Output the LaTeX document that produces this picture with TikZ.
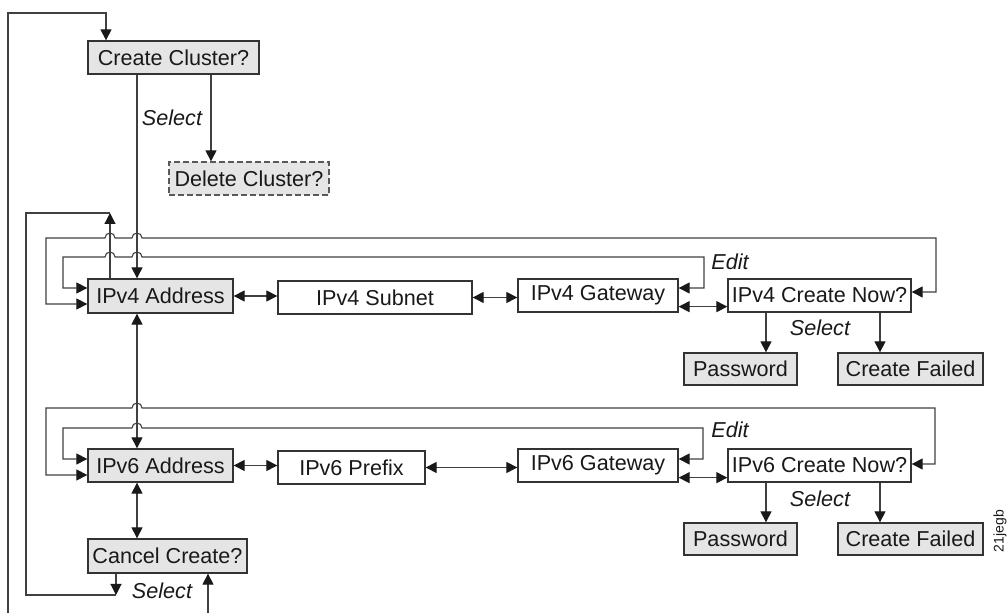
\documentclass[tikz,border=0pt]{standalone}
\usepackage{fontspec}
\setmainfont{Liberation Sans}
\usetikzlibrary{arrows.meta,calc}

% box from its corner coordinates: name, x1, y1, x2, y2, style, text
\newcommand\placebox[7]{%
  \pgfmathsetmacro\bxw{(#4-#2)*0.5}%
  \pgfmathsetmacro\bxh{(#5-#3)*0.5}%
  \node[#6, minimum width=\bxw pt, minimum height=\bxh pt] (#1) at ({(#2+#4)/2},{(#3+#5)/2}) {#7};}

\tikzset{
  >={Triangle[length=5.5pt,width=5.5pt,color=black!90]},
  conn/.style={draw=black!75, line width=0.55pt},
  box/.style={draw=black!80, line width=0.65pt, inner sep=0pt,
              font=\fontsize{10.8}{12}\selectfont, text=black!90},
  shaded/.style={box, fill=black!10},
  plain/.style={box, fill=white},
  lbl/.style={font=\fontsize{10.8}{12}\selectfont\itshape, inner sep=0pt, text=black!90},
}

\begin{document}
\begin{tikzpicture}[x=0.5pt,y=-0.5pt]
\useasboundingbox (0,0) rectangle (1008,613);

% ---- menu boxes
\placebox{cc}{88}{41}{259}{74}{shaded}{Create Cluster?}
\placebox{dc}{169}{162}{329}{195}{shaded,draw=black!65,dash pattern=on 3pt off 1.5pt}{Delete Cluster?}
\placebox{a4}{88}{279}{233}{313}{shaded}{IPv4 Address}
\placebox{s4}{278}{281}{472}{314}{plain}{IPv4 Subnet}
\placebox{g4}{518}{279}{678}{312}{plain}{IPv4 Gateway}
\placebox{n4}{728}{279}{911}{312}{plain}{IPv4 Create Now?}
\placebox{p4}{684}{353}{797}{385}{shaded}{Password}
\placebox{f4}{838}{353}{983}{385}{shaded}{Create Failed}
\placebox{a6}{88}{449}{233}{482}{shaded}{IPv6 Address}
\placebox{x6}{278}{451}{425}{484}{plain}{IPv6 Prefix}
\placebox{g6}{518}{449}{678}{482}{plain}{IPv6 Gateway}
\placebox{n6}{728}{449}{911}{482}{plain}{IPv6 Create Now?}
\placebox{p6}{684}{523}{797}{555}{shaded}{Password}
\placebox{f6}{838}{523}{983}{555}{shaded}{Create Failed}
\placebox{cx}{88}{539}{247}{573}{shaded}{Cancel Create?}

% ---- routing points
\coordinate (lb) at (8,613);
\coordinate (lt) at (106,13);
\coordinate (up) at (110,213);
\coordinate (cl) at (26,595);
\coordinate (cs) at (116,595);
\coordinate (lc) at (208,613);
\coordinate (mid) at (137,0);
\coordinate (del) at (211,0);
\coordinate (e4l) at (63,257);
\coordinate (e4r) at (704,288);
\coordinate (o4l) at (46,238);
\coordinate (o4r) at (936,292);
\coordinate (e6l) at (63,428);
\coordinate (e6r) at (703,459);
\coordinate (o6l) at (46,408);
\coordinate (o6r) at (935,464);
\coordinate (pw) at (766,0);
\coordinate (cf) at (880,0);
\coordinate (gn4) at ($(g4.south east)+(0,-6)$);
\coordinate (gn6) at ($(g6.south east)+(0,-5)$);

% ---- outer return into Create Cluster?
\draw[conn,->] (lb) |- (lt) -- (lt |- cc.north);
\draw[conn,->] (cc.south -| mid) -- (a4.north -| mid);
\draw[conn,->] (cc.south -| del) -- (dc.north -| del);
\node[lbl] (sel0) at (172,118) {Select};

% ---- return path from IPv4 Address and Cancel Create?
\draw[conn,->] (a4.north -| up) -- (up);
\draw[conn] (up) -| (cl) -- (cs);
\draw[conn,->] (cx.south -| cs) -- (cs);
\node[lbl] (sel3) at (162,591) {Select};
\draw[conn,->] (lc) -- (cx.south -| lc);

% ---- IPv4 row
\draw[conn,<->] (a4.east) -- (a4.east -| s4.west);
\draw[conn,<->] (s4.east) -- (s4.east -| g4.west);
\draw[conn,<->] (gn4) -- (gn4 -| n4.west);
\draw[conn,<->] ($(a4.west)+(0,-8)$) -| (e4l)
  -- ($(e4l -| up)+(-5,0)$) arc[start angle=180,end angle=0,radius=2.5pt]
  -- ($(e4l -| mid)+(-5,0)$) arc[start angle=180,end angle=0,radius=2.5pt]
  -| (e4r) -- (e4r -| g4.east);
\draw[conn,<->] ($(a4.west)+(0,8)$) -| (o4l)
  -- ($(o4l -| up)+(-5,0)$) arc[start angle=180,end angle=0,radius=2.5pt]
  -- ($(o4l -| mid)+(-5,0)$) arc[start angle=180,end angle=0,radius=2.5pt]
  -| (o4r) -- (o4r -| n4.east);
\node[lbl] (edit4) at (730,262) {Edit};
\draw[conn,->] (n4.south -| pw) -- (p4.north -| pw);
\draw[conn,->] (n4.south -| cf) -- (f4.north -| cf);
\node[lbl] (sel4) at (820,328) {Select};

% ---- IPv4 / IPv6 / Cancel
\draw[conn,<->] (a4.south -| mid) -- (a6.north -| mid);
\draw[conn,<->] (a6.south -| mid) -- (cx.north -| mid);

% ---- IPv6 row
\draw[conn,<->] (a6.east) -- (a6.east -| x6.west);
\draw[conn,<->] (x6.east) -- (x6.east -| g6.west);
\draw[conn,<->] (gn6) -- (gn6 -| n6.west);
\draw[conn,<->] ($(a6.west)+(0,-6.5)$) -| (e6l)
  -- ($(e6l -| mid)+(-5,0)$) arc[start angle=180,end angle=0,radius=2.5pt]
  -| (e6r) -- (e6r -| g6.east);
\draw[conn,<->] ($(a6.west)+(0,9.5)$) -| (o6l)
  -- ($(o6l -| mid)+(-5,0)$) arc[start angle=180,end angle=0,radius=2.5pt]
  -| (o6r) -- (o6r -| n6.east);
\node[lbl] (edit6) at (730,430) {Edit};
\draw[conn,->] (n6.south -| pw) -- (p6.north -| pw);
\draw[conn,->] (n6.south -| cf) -- (f6.north -| cf);
\node[lbl] (sel6) at (820,499) {Select};

% ---- figure code
\node[font=\fontsize{7}{8}\selectfont, rotate=90, inner sep=0pt, text=black!90] (code) at (1000,531) {21jegb};
\end{tikzpicture}
\end{document}
